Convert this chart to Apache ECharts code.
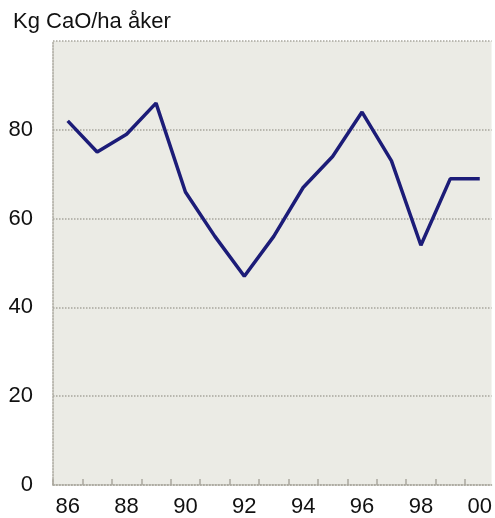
<!DOCTYPE html>
<html>
<head>
<meta charset="utf-8">
<script src="https://cdn.jsdelivr.net/npm/echarts@6/dist/echarts.min.js"></script>
<style>html,body{margin:0;padding:0;background:#fff}#c{width:495px;height:518px}</style>
</head>
<body>
<div id="c"></div>
<script>
const titleText = 'Kg CaO/ha åker';
const years = [1986,1987,1988,1989,1990,1991,1992,1993,1994,1995,1996,1997,1998,1999,2000];
const values = [82,75,79,86,66,56,47,56,67,74,84,73,54,69,69];
const xLabelYears = [1986,1988,1990,1992,1994,1996,1998,2000];
const yTicks = [0,20,40,60,80,100];

const chart = echarts.init(document.getElementById('c'));
const tickVals = years.map(y => y - 1900 - 0.5).concat([years[years.length-1]-1900+0.5]);
chart.setOption({
  animation: false,
  title: {text: titleText, left: 8, top: 6, textStyle: {fontFamily: 'Liberation Sans', fontSize: 22, fontWeight: 'normal', color: '#111'}},
  grid: {left: 53, right: 0, top: 41, bottom: 32, show: true, backgroundColor: '#ebebe5', borderWidth: 0},
  xAxis: {
    type: 'value', min: 85.5, max: 100.4,
    axisLine: {show: true, lineStyle: {color: '#aaa89e', type: 'dotted', width: 1.5}},
    axisTick: {show: true, inside: true, length: 6, customValues: tickVals, lineStyle: {color: '#aaa89e', width: 1.5}},
    splitLine: {show: false},
    axisLabel: {customValues: xLabelYears.map(y => y - 1900), formatter: v => String(Math.round(v) % 100).padStart(2, '0'),
      fontFamily: 'Liberation Sans', fontSize: 22, color: '#111', margin: 11}
  },
  yAxis: {
    type: 'value', min: 0, max: 100, interval: 20,
    axisLine: {show: true, lineStyle: {color: '#aaa89e', type: 'dotted', width: 1.5}},
    axisTick: {show: false},
    splitLine: {show: true, lineStyle: {color: '#a8a69c', type: 'dotted', width: 1.5}},
    axisLabel: {formatter: v => (v === 100 ? '' : String(v)), fontFamily: 'Liberation Sans', fontSize: 22, color: '#111', margin: 20}
  },
  series: [{
    type: 'line', data: years.map((y, i) => [y - 1900, values[i]]),
    symbol: 'none', lineStyle: {color: '#1c1c78', width: 3.5}
  }]
});
</script>
</body>
</html>
